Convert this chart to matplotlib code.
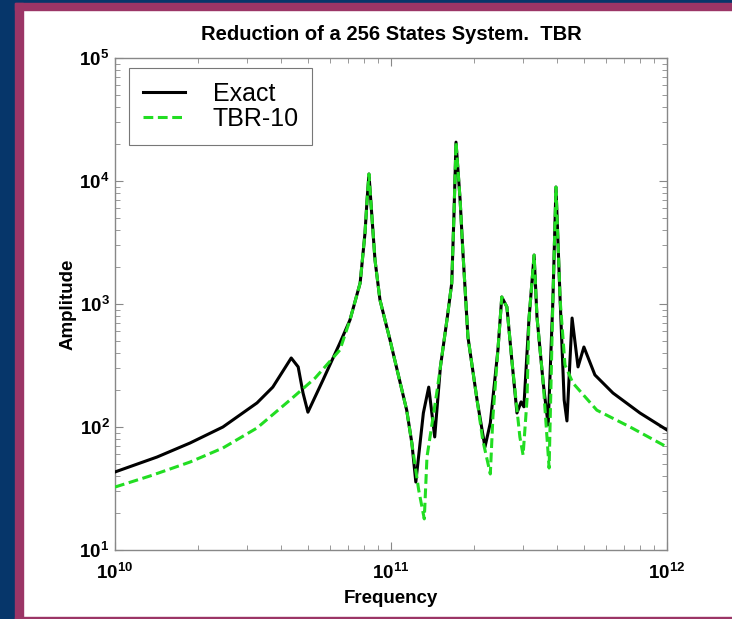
import matplotlib
matplotlib.use('Agg')
import matplotlib.pyplot as plt
from matplotlib.patches import Rectangle
from matplotlib.ticker import LogLocator, FixedLocator, FixedFormatter, NullFormatter

# ---- data (Hz, amplitude) ----
freq_exact = [1.00e10, 1.42e10, 1.87e10, 2.46e10, 3.27e10, 3.73e10, 4.35e10, 4.61e10, 4.80e10, 5.00e10,
              5.67e10, 6.53e10, 7.10e10, 7.73e10, 8.05e10, 8.19e10, 8.32e10, 8.53e10, 8.75e10, 9.12e10,
              9.92e10, 1.08e11, 1.14e11, 1.19e11, 1.23e11, 1.31e11, 1.37e11, 1.44e11, 1.51e11, 1.60e11,
              1.66e11, 1.69e11, 1.72e11, 1.78e11, 1.82e11, 1.90e11, 2.05e11, 2.19e11, 2.29e11, 2.44e11,
              2.52e11, 2.63e11, 2.74e11, 2.86e11, 2.96e11, 3.03e11, 3.16e11, 3.30e11, 3.38e11, 3.56e11,
              3.71e11, 3.86e11, 3.96e11, 4.10e11, 4.24e11, 4.34e11, 4.53e11, 4.76e11, 5.00e11, 5.48e11,
              6.37e11, 7.98e11, 1.00e12]
amp_exact = [43.1, 57.0, 74.1, 100, 157, 211, 364, 308, 189, 132,
             241, 482, 741, 1480, 3780, 7020, 11400, 5090, 2280, 1080,
             509, 228, 137, 74.1, 35.7, 130, 211, 83.0, 308, 783,
             1480, 5090, 20700, 7020, 2750, 540, 166, 68.7, 108, 423,
             1140, 946, 351, 130, 160, 146, 741, 2500, 783, 228,
             104, 1080, 8930, 1080, 166, 112, 769, 308, 447, 265,
             189, 130, 94.6]

freq_tbr = [1.00e10, 1.34e10, 1.87e10, 2.46e10, 3.27e10, 4.31e10, 5.31e10, 6.53e10, 7.10e10, 7.73e10,
            8.05e10, 8.19e10, 8.32e10, 8.53e10, 8.75e10, 9.12e10, 9.92e10, 1.08e11, 1.14e11, 1.20e11,
            1.26e11, 1.32e11, 1.35e11, 1.47e11, 1.60e11, 1.66e11, 1.69e11, 1.72e11, 1.78e11, 1.82e11,
            1.90e11, 2.05e11, 2.15e11, 2.29e11, 2.34e11, 2.44e11, 2.52e11, 2.63e11, 2.74e11, 2.93e11,
            3.01e11, 3.11e11, 3.16e11, 3.30e11, 3.38e11, 3.56e11, 3.74e11, 3.86e11, 3.96e11, 4.10e11,
            4.27e11, 4.56e11, 5.57e11, 7.35e11, 1.00e12]
amp_tbr = [32.5, 40.0, 51.9, 67.5, 98.2, 166, 250, 423, 741, 1480,
           3780, 7020, 11400, 5090, 2280, 1080, 509, 228, 137, 65.0,
           30.7, 17.9, 57.0, 200, 783, 1480, 5090, 20700, 7020, 2750,
           540, 166, 78.3, 41.5, 120, 423, 1140, 946, 351, 83.0,
           59.2, 166, 741, 2500, 783, 228, 46.4, 1080, 8930, 1080,
           319, 228, 137, 100, 68.7]

x_ticks = [1e10, 1e11, 1e12]
x_ticklabels = [r'$\mathbf{10^{10}}$', r'$\mathbf{10^{11}}$', r'$\mathbf{10^{12}}$']
y_ticks = [1e1, 1e2, 1e3, 1e4, 1e5]
y_ticklabels = [r'$\mathbf{10^{1}}$', r'$\mathbf{10^{2}}$', r'$\mathbf{10^{3}}$',
                r'$\mathbf{10^{4}}$', r'$\mathbf{10^{5}}$']

plt.rcParams['font.family'] = ['Liberation Sans', 'DejaVu Sans']
plt.rcParams['mathtext.fontset'] = 'custom'
plt.rcParams['mathtext.bf'] = 'Liberation Sans:bold'
plt.rcParams['mathtext.rm'] = 'Liberation Sans'

W, H = 732, 619
fig = plt.figure(figsize=(W / 100, H / 100), dpi=100)
fig.patch.set_facecolor('white')

# slide frame: navy background + magenta border
navy = '#06366a'
magenta = '#9b3566'
fig.add_artist(Rectangle((0, 0), 15 / W, 1, transform=fig.transFigure, color=navy, zorder=-3))
fig.add_artist(Rectangle((0, 1 - 3 / H), 1, 3 / H, transform=fig.transFigure, color=navy, zorder=-3))
fig.add_artist(Rectangle((15 / W, 1 - 10 / H), 1, 7 / H, transform=fig.transFigure, color=magenta, zorder=-2))
fig.add_artist(Rectangle((15 / W, 0), 8 / W, 1 - 3 / H, transform=fig.transFigure, color=magenta, zorder=-2))
fig.add_artist(Rectangle((15 / W, 0), 1, 2.5 / H, transform=fig.transFigure, color=magenta, zorder=-2))

ax = fig.add_axes([115 / W, 1 - 550 / H, 552 / W, 492 / H])
ax.set_xscale('log')
ax.set_yscale('log')

ax.plot(freq_exact, amp_exact, color='black', lw=2.2, label='Exact', zorder=3)
ax.plot(freq_tbr, amp_tbr, color='#22dd22', lw=2.2, ls=(0, (3.2, 1.5)), label='TBR-10', zorder=4)

ax.set_xlim(1e10, 1e12)
ax.set_ylim(1e1, 1e5)

ax.xaxis.set_major_locator(FixedLocator(x_ticks))
ax.xaxis.set_major_formatter(FixedFormatter(x_ticklabels))
ax.yaxis.set_major_locator(FixedLocator(y_ticks))
ax.yaxis.set_major_formatter(FixedFormatter(y_ticklabels))
ax.xaxis.set_minor_locator(LogLocator(base=10, subs=range(2, 10)))
ax.yaxis.set_minor_locator(LogLocator(base=10, subs=range(2, 10)))
ax.xaxis.set_minor_formatter(NullFormatter())
ax.yaxis.set_minor_formatter(NullFormatter())

ax.tick_params(which='both', direction='in', top=True, right=True, color='#888888')
ax.tick_params(which='major', length=6, width=0.8, labelsize=13.5)
ax.tick_params(axis='x', which='major', pad=9)
ax.tick_params(axis='y', which='major', pad=4)
ax.tick_params(which='minor', length=3.5, width=0.6)
for s in ax.spines.values():
    s.set_color('#888888')
    s.set_linewidth(1.0)

ax.set_xlabel('Frequency', fontsize=13.5, fontweight='bold', labelpad=5)
ax.set_ylabel('Amplitude', fontsize=13.5, fontweight='bold', labelpad=2)
ax.set_title('Reduction of a 256 States System.  TBR', fontsize=14.5, fontweight='bold', pad=13)

leg = ax.legend(loc='upper left', fontsize=18, frameon=True, fancybox=False,
                edgecolor='#555555', handlelength=1.7, handletextpad=1.1,
                borderpad=0.55, labelspacing=0.05, borderaxespad=0,
                bbox_to_anchor=(0.025, 0.980))
leg.get_frame().set_linewidth(0.8)

fig.savefig('out.png', dpi=100)
